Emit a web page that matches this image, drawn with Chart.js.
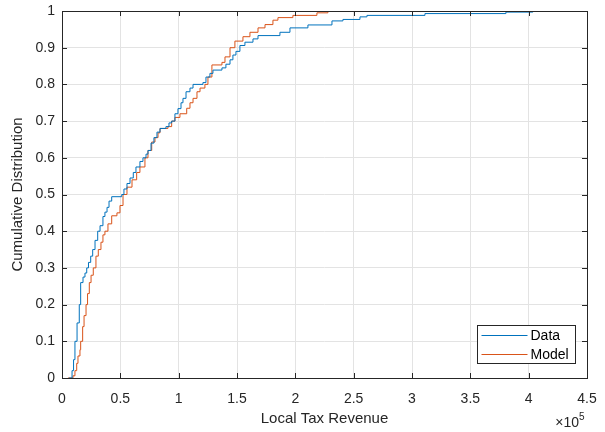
<!DOCTYPE html>
<html>
<head>
<meta charset="utf-8">
<script src="https://cdn.jsdelivr.net/npm/chart.js@4/dist/chart.umd.min.js"></script>
<style>
  html, body { margin: 0; padding: 0; background: #ffffff; }
  #c { display: block; }
</style>
</head>
<body>
<canvas id="c" width="605" height="432"></canvas>
<script>
// ---- data (x in local tax revenue, y cumulative share) ----
const dataX = [6000, 8600, 9900, 11100, 12900, 14800, 16000, 18000, 19700, 21200, 22700, 24600, 26300, 28300, 30600, 32600, 35100, 36800, 38600, 40300, 42600, 51200, 53100, 55700, 58300, 61100, 63400, 66800, 69400, 72000, 73700, 76300, 78800, 81400, 84000, 89100, 91700, 94000, 96800, 99400, 102000, 103700, 106300, 109700, 112300, 120800, 123400, 126800, 129400, 137100, 140500, 144000, 146500, 149100, 152500, 156800, 163700, 168000, 186800, 195400, 210800, 231400, 240800, 255400, 261400, 311100, 380500, 403600];
const dataY = [0, 0.02, 0.05, 0.1, 0.15, 0.2, 0.26, 0.275, 0.286, 0.3, 0.315, 0.332, 0.35, 0.375, 0.4, 0.415, 0.44, 0.452, 0.465, 0.482, 0.494, 0.5, 0.515, 0.53, 0.545, 0.56, 0.575, 0.59, 0.6, 0.61, 0.62, 0.64, 0.655, 0.67, 0.68, 0.685, 0.695, 0.7, 0.72, 0.734, 0.75, 0.762, 0.78, 0.79, 0.8, 0.805, 0.82, 0.83, 0.839, 0.845, 0.855, 0.867, 0.88, 0.89, 0.906, 0.915, 0.924, 0.933, 0.942, 0.954, 0.962, 0.973, 0.977, 0.984, 0.988, 0.993, 0.997, 1.0];
const modelX = [5100, 9400, 11100, 12600, 13700, 15400, 16000, 17700, 18900, 20600, 21900, 23400, 24900, 26800, 29100, 31100, 33400, 35100, 36800, 39400, 42600, 47100, 49700, 52300, 55700, 60000, 64000, 66800, 71100, 73700, 76900, 79700, 82300, 84000, 90800, 94000, 96800, 101100, 106900, 109700, 112300, 115700, 118300, 122500, 125100, 128500, 137100, 139700, 144000, 148200, 155100, 161100, 168000, 174000, 180800, 185100, 197900, 218500, 227900];
const modelY = [0, 0.006, 0.02, 0.04, 0.06, 0.077, 0.1, 0.14, 0.17, 0.2, 0.23, 0.26, 0.28, 0.3, 0.332, 0.35, 0.37, 0.39, 0.4, 0.42, 0.442, 0.45, 0.47, 0.5, 0.52, 0.54, 0.56, 0.575, 0.6, 0.62, 0.643, 0.655, 0.668, 0.68, 0.685, 0.7, 0.71, 0.72, 0.735, 0.75, 0.762, 0.78, 0.79, 0.8, 0.82, 0.853, 0.86, 0.875, 0.9, 0.918, 0.93, 0.942, 0.954, 0.963, 0.975, 0.982, 0.988, 0.995, 1.0];
const seriesNames = ['Data', 'Model'];
const xTitle = 'Local Tax Revenue';
const yTitle = 'Cumulative Distribution';
const xExponent = 5;

const FONT = "'Liberation Sans', Arial, Helvetica, sans-serif";
const INK = '#262626';
const toPts = (xs, ys) => xs.map((x, i) => ({ x: x, y: ys[i] }));

const framePlugin = {
  id: 'frame',
  afterDatasetsDraw(chart) {
    const { ctx, chartArea: a, scales: { x, y } } = chart;
    ctx.save();
    ctx.strokeStyle = INK;
    ctx.lineWidth = 1;
    const L = 5;
    ctx.beginPath();
    x.ticks.forEach(t => {
      const px = Math.round(x.getPixelForValue(t.value)) + 0.5;
      ctx.moveTo(px, a.bottom); ctx.lineTo(px, a.bottom - L);
      ctx.moveTo(px, a.top); ctx.lineTo(px, a.top + L);
    });
    y.ticks.forEach(t => {
      const py = Math.round(y.getPixelForValue(t.value)) + 0.5;
      ctx.moveTo(a.left, py); ctx.lineTo(a.left + L, py);
      ctx.moveTo(a.right, py); ctx.lineTo(a.right - L, py);
    });
    ctx.stroke();
    ctx.strokeRect(Math.round(a.left) + 0.5, Math.round(a.top) + 0.5,
                   Math.round(a.right - a.left), Math.round(a.bottom - a.top));

    // legend
    const lw = 98, lh = 38;
    const lx = Math.round(a.right - 12 - lw) + 0.5;
    const ly = Math.round(a.bottom - 15 - lh) + 0.5;
    ctx.fillStyle = '#ffffff';
    ctx.fillRect(lx, ly, lw, lh);
    ctx.strokeStyle = INK;
    ctx.strokeRect(lx, ly, lw, lh);
    ctx.font = '14px ' + FONT;
    ctx.textBaseline = 'middle';
    ctx.textAlign = 'left';
    chart.data.datasets.forEach((ds, i) => {
      const cy = Math.round(ly + 9.5 + i * 19) + 0.5;
      ctx.strokeStyle = ds.borderColor;
      ctx.beginPath();
      ctx.moveTo(lx + 4, cy); ctx.lineTo(lx + 50, cy);
      ctx.stroke();
      ctx.fillStyle = '#000000';
      ctx.fillText(ds.label, lx + 53, cy + 0.5);
    });

    // exponent label
    ctx.fillStyle = INK;
    ctx.textBaseline = 'alphabetic';
    ctx.textAlign = 'right';
    ctx.font = '14px ' + FONT;
    ctx.fillText('\u00d710', a.right - 8, 427);
    ctx.textAlign = 'left';
    ctx.font = '10px ' + FONT;
    ctx.fillText(String(xExponent), a.right - 8, 420);
    ctx.restore();
  }
};

new Chart(document.getElementById('c'), {
  type: 'line',
  data: {
    datasets: [
      { label: seriesNames[0], data: toPts(dataX, dataY), borderColor: '#0072BD', borderWidth: 1, stepped: true, pointRadius: 0, fill: false },
      { label: seriesNames[1], data: toPts(modelX, modelY), borderColor: '#D95319', borderWidth: 1, stepped: true, pointRadius: 0, fill: false }
    ]
  },
  options: {
    responsive: false,
    animation: false,
    events: [],
    layout: { padding: { left: 0, right: 18, top: 11, bottom: 0 } },
    plugins: { legend: { display: false }, tooltip: { enabled: false } },
    scales: {
      x: {
        type: 'linear', min: 0, max: 450000,
        afterFit: s => { s.height = 54; s.paddingLeft = 0; s.paddingRight = 0; },
        ticks: { stepSize: 50000, color: INK, font: { family: FONT, size: 14 }, padding: 13, maxRotation: 0,
                 callback: v => String(Math.round(v / 1e4) / 10) },
        grid: { color: '#e3e3e3', drawTicks: false },
        border: { display: false },
        title: { display: true, text: xTitle, color: INK, font: { family: FONT, size: 15 }, padding: { top: 0, bottom: 4 } }
      },
      y: {
        type: 'linear', min: 0, max: 1,
        afterFit: s => { s.width = 62; s.paddingTop = 0; s.paddingBottom = 0; },
        ticks: { stepSize: 0.1, color: INK, font: { family: FONT, size: 14 }, padding: 7,
                 callback: v => String(Math.round(v * 10) / 10) },
        grid: { color: '#e3e3e3', drawTicks: false },
        border: { display: false },
        title: { display: true, text: yTitle, color: INK, font: { family: FONT, size: 15 }, padding: { top: 9, bottom: 0 } }
      }
    }
  },
  plugins: [framePlugin]
});
</script>
</body>
</html>
